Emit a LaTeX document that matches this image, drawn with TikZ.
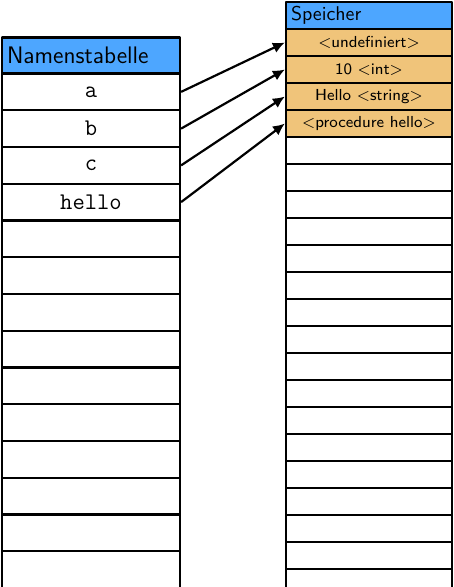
\documentclass[tikz,border=0pt]{standalone}
\usepackage{tikz}
\usetikzlibrary{arrows.meta}
\usepackage{xcolor}
\definecolor{kopfblau}{RGB}{77,166,255}
\definecolor{belegt}{RGB}{240,196,122}
\begin{document}
\begin{tikzpicture}[>={Latex[length=6bp,width=5.5bp]},line join=bevel,line width=1.1bp,
  nkopf/.style={draw,fill=kopfblau,minimum height=18bp,inner xsep=2.5bp,inner ysep=0pt,text width=84bp,align=left,font=\large\sffamily},
  skopf/.style={draw,fill=kopfblau,minimum height=13.5bp,inner xsep=2.5bp,inner ysep=0pt,text width=78bp,align=left,font=\sffamily},
  nzeile/.style={draw,fill=white,minimum width=89bp,minimum height=18.375bp,inner sep=0pt,font=\large\ttfamily},
  szeile/.style={draw,fill=white,minimum width=83bp,minimum height=13.5bp,inner sep=0pt,font=\footnotesize\sffamily},
  sbelegt/.style={szeile,fill=belegt}]
%%
\clip (0bp,0bp) rectangle (227bp,293.5bp);
%% Namenstabelle
\node (n_0) at (45.5bp,265.75bp) [nkopf] {Namenstabelle};
  \node (n_1) at (45.5bp,247.56bp) [nzeile] {a};
  \node (n_2) at (45.5bp,229.19bp) [nzeile] {b};
  \node (n_3) at (45.5bp,210.81bp) [nzeile] {c};
  \node (n_4) at (45.5bp,192.44bp) [nzeile] {hello};
  \node (n_5) at (45.5bp,174.06bp) [nzeile] {};
  \node (n_6) at (45.5bp,155.69bp) [nzeile] {};
  \node (n_7) at (45.5bp,137.31bp) [nzeile] {};
  \node (n_8) at (45.5bp,118.94bp) [nzeile] {};
  \node (n_9) at (45.5bp,100.56bp) [nzeile] {};
  \node (n_10) at (45.5bp,82.19bp) [nzeile] {};
  \node (n_11) at (45.5bp,63.81bp) [nzeile] {};
  \node (n_12) at (45.5bp,45.44bp) [nzeile] {};
  \node (n_13) at (45.5bp,27.06bp) [nzeile] {};
  \node (n_14) at (45.5bp,8.69bp) [nzeile] {};
%% Speicher
\node (s_0) at (184.5bp,285.75bp) [skopf] {Speicher};
  \node (s_1) at (184.5bp,272.25bp) [sbelegt] {<undefiniert>};
  \node (s_2) at (184.5bp,258.75bp) [sbelegt] {10 <int>};
  \node (s_3) at (184.5bp,245.25bp) [sbelegt] {Hello <string>};
  \node (s_4) at (184.5bp,231.75bp) [sbelegt] {<procedure hello>};
  \node (s_5) at (184.5bp,218.25bp) [szeile] {};
  \node (s_6) at (184.5bp,204.75bp) [szeile] {};
  \node (s_7) at (184.5bp,191.25bp) [szeile] {};
  \node (s_8) at (184.5bp,177.75bp) [szeile] {};
  \node (s_9) at (184.5bp,164.25bp) [szeile] {};
  \node (s_10) at (184.5bp,150.75bp) [szeile] {};
  \node (s_11) at (184.5bp,137.25bp) [szeile] {};
  \node (s_12) at (184.5bp,123.75bp) [szeile] {};
  \node (s_13) at (184.5bp,110.25bp) [szeile] {};
  \node (s_14) at (184.5bp,96.75bp) [szeile] {};
  \node (s_15) at (184.5bp,83.25bp) [szeile] {};
  \node (s_16) at (184.5bp,69.75bp) [szeile] {};
  \node (s_17) at (184.5bp,56.25bp) [szeile] {};
  \node (s_18) at (184.5bp,42.75bp) [szeile] {};
  \node (s_19) at (184.5bp,29.25bp) [szeile] {};
  \node (s_20) at (184.5bp,15.75bp) [szeile] {};
  \node (s_21) at (184.5bp,2.25bp) [szeile] {};
%% Verweise
  \draw [->] (n_1.east) -- (s_1.west);
  \draw [->] (n_2.east) -- (s_2.west);
  \draw [->] (n_3.east) -- (s_3.west);
  \draw [->] (n_4.east) -- (s_4.west);
%
\end{tikzpicture}
\end{document}
